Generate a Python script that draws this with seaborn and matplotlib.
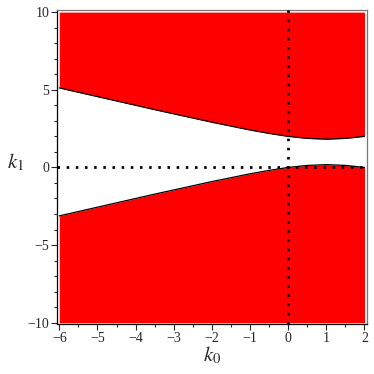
import numpy as np
import pandas as pd
import matplotlib
matplotlib.use("Agg")
import matplotlib.pyplot as plt
import seaborn as sns

# values
k0 = [-6.0, -5.5, -5.0, -4.5, -4.0, -3.5, -3.0, -2.5, -2.0, -1.5,
      -1.0, -0.5, 0.0, 0.5, 1.0, 1.5, 2.0]
k1_upper = [5.12, 4.84, 4.56, 4.28, 4.00, 3.72, 3.45, 3.18, 2.91, 2.66,
            2.41, 2.19, 2.00, 1.87, 1.82, 1.87, 2.00]
k1_lower = [-3.12, -2.84, -2.56, -2.28, -2.00, -1.72, -1.45, -1.18, -0.91, -0.66,
            -0.41, -0.19, 0.00, 0.13, 0.18, 0.13, 0.00]
x_ticks = [-6, -5, -4, -3, -2, -1, 0, 1, 2]
y_ticks = [-10, -5, 0, 5, 10]
y_min, y_max = -10, 10

sns.set_style("ticks")
plt.rcParams['font.family'] = ['Liberation Serif', 'DejaVu Serif']
plt.rcParams['mathtext.fontset'] = 'stix'

df = pd.DataFrame({"k0": k0, "upper": k1_upper, "lower": k1_lower})

fig = plt.figure(figsize=(3.74, 3.74), dpi=100)
ax = fig.add_axes([0.1537, 0.135, 0.827, 0.838])

# red regions outside the band
ax.fill_between(df["k0"], df["upper"], y_max, color="#ff0000", lw=0, zorder=1)
ax.fill_between(df["k0"], y_min, df["lower"], color="#ff0000", lw=0, zorder=1)

sns.lineplot(data=df, x="k0", y="upper", color="black", lw=0.9, ax=ax, zorder=3)
sns.lineplot(data=df, x="k0", y="lower", color="black", lw=0.9, ax=ax, zorder=3)

# dotted axes through the origin
ax.axvline(0, color="black", lw=2, ls=(0, (0.9, 2.4)), zorder=4)
ax.axhline(0, color="black", lw=2, ls=(0, (0.9, 2.4)), zorder=4)

ax.set_xlim(-6.047, 2.06)
ax.set_ylim(-10.05, 10.13)
ax.set_xticks(x_ticks)
ax.set_yticks(y_ticks)
ax.set_xticks(np.arange(-6, 2.01, 0.5), minor=True)
ax.set_yticks(np.arange(-10, 10.01, 1), minor=True)
ax.tick_params(axis="both", which="major", length=4, width=0.8, labelsize=10, pad=2)
ax.tick_params(axis="both", which="minor", length=2.5, width=0.8)

for s in ["left", "bottom"]:
    ax.spines[s].set_color("black")
    ax.spines[s].set_linewidth(0.9)
for s in ["top", "right"]:
    ax.spines[s].set_color("#777777")
    ax.spines[s].set_linewidth(0.9)

ax.set_xlabel(r"$k_0$", fontsize=15, labelpad=0)
ax.set_ylabel(r"$k_1$", fontsize=15, rotation=0, labelpad=12)
ax.yaxis.set_label_coords(-0.135, 0.48)

fig.savefig("out.png", dpi=100)
